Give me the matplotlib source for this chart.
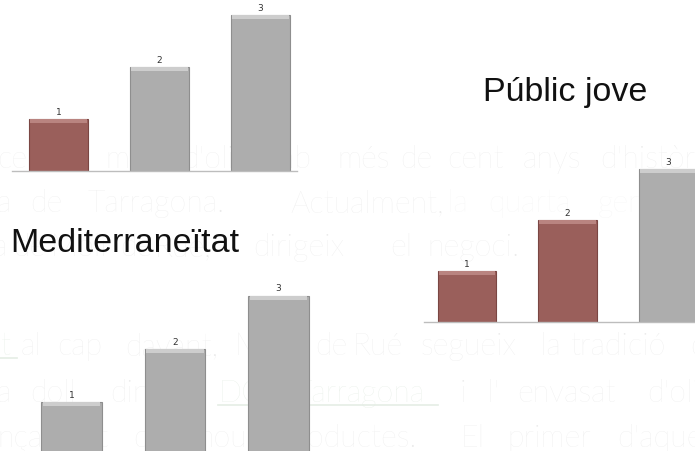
import matplotlib
matplotlib.use("Agg")
import matplotlib.pyplot as plt

W, H = 695, 451

# three small rankings drawn over a faded page of text
bar_values = [1, 2, 3]
chart_titles = ["", "Públic jove", "Mediterraneïtat"]
highlighted_bars = [1, 2, 0]  # bars filled in red, counted from the left

RED, RED_TOP, RED_EDGE = "#9a5f5b", "#b98480", "#7a4643"
GRAY, GRAY_TOP, GRAY_EDGE = "#adadad", "#cdcdcd", "#8e8e8e"

# faded page text: (baseline y, [(x, word), ...], colour, underline span)
TEXT = "#ebebeb"
LINK = "#e5ede5"
PALE = "#f4f4f4"
page_lines = [
    (168, [(-3, "celler"), (105, "molí"), (182, "d'oli"), (257, "amb"), (337, "més"),
           (400, "de"), (447, "cent"), (523, "anys"), (600, "d'història")], TEXT, None),
    (212, [(-3, "a"), (30, "de"), (88, "Tarragona."), (290, "Actualment,")], TEXT, None),
    (212, [(447, "la"), (488, "quarta"), (598, "generació")], PALE, None),
    (256, [(-8, "a"), (13, "de"), (50, "Molí"), (120, "de"), (155, "Rué,"),
           (253, "dirigeix"), (390, "el"), (427, "negoci.")], TEXT, None),
    (355, [(0, "t")], LINK, (0, 17)),
    (355, [(20, "al"), (57, "cap"), (125, "davant,"), (235, "Molí"), (315, "de"),
           (353, "Rué"), (420, "segueix"), (540, "la"), (570, "tradició"), (690, "d'")], TEXT, None),
    (402, [(-3, "a"), (30, "doll"), (110, "dins"), (187, "la")], TEXT, None),
    (402, [(218, "DO"), (295, "Tarragona")], LINK, (218, 438)),
    (402, [(460, "i"), (487, "l'"), (517, "envasat"), (647, "d'oli")], TEXT, None),
    (447, [(-3, "nçament"), (133, "de"), (197, "nous"), (280, "productes."), (460, "El"),
           (507, "primer"), (617, "d'aquests")], TEXT, None),
]

# chart frames in pixels: left edge, baseline, width, px per unit, bar spacing, first bar centre
frames = [
    (12, 171, 285, 52, 101, 58.5),
    (424, 322, 296, 51, 100.5, 467),
    (30, 456, 285, 53.5, 103.5, 71.5),
]
title_pos = [None, (483, 101), (10, 252)]


def px_axes(fig, left, top, width, height, z):
    return fig.add_axes([left / W, 1 - (top + height) / H, width / W, height / H], zorder=z)


def draw_page(fig):
    ax = px_axes(fig, 0, 0, W, H, 0)
    ax.set_xlim(0, W)
    ax.set_ylim(H, 0)
    ax.axis("off")
    for y, words, color, underline in page_lines:
        for x, word in words:
            ax.text(x, y, word, fontsize=22, family="Lato", weight="light",
                    color=color, ha="left", va="baseline")
        if underline:
            ax.plot(underline, [y + 3, y + 3], color=color, lw=1.2)
    return ax


def draw_chart(fig, frame, n_red):
    left, base, width, unit, step, first = frame
    ymax = 3.3
    ax = px_axes(fig, left, base - ymax * unit, width, ymax * unit, 2)
    ax.patch.set_alpha(0)
    x = list(range(len(bar_values)))
    body = [RED if i < n_red else GRAY for i in x]
    top = [RED_TOP if i < n_red else GRAY_TOP for i in x]
    edge = [RED_EDGE if i < n_red else GRAY_EDGE for i in x]
    ax.bar(x, bar_values, width=0.58, color=body, edgecolor=edge, linewidth=0.8)
    band = 4 / unit
    ax.bar(x, [band] * len(x), bottom=[v - band for v in bar_values], width=0.56,
           color=top, linewidth=0)
    for i, v in zip(x, bar_values):
        ax.annotate(str(v), (i, v), xytext=(0, 1.5), textcoords="offset points",
                    ha="center", va="bottom", fontsize=6.5, color="#333333",
                    family="DejaVu Sans")
    x0 = -(first - left) / step
    ax.set_xlim(x0, x0 + width / step)
    ax.set_ylim(0, ymax)
    for side in ("top", "left", "right"):
        ax.spines[side].set_visible(False)
    ax.spines["bottom"].set_color("#bdbdbd")
    ax.spines["bottom"].set_linewidth(1.0)
    ax.set_xticks([])
    ax.set_yticks([])
    return ax


fig = plt.figure(figsize=(W / 100, H / 100), dpi=100)
fig.patch.set_facecolor("white")
bg = draw_page(fig)
for frame, n_red in zip(frames, highlighted_bars):
    draw_chart(fig, frame, n_red)

# chart titles sit above everything
top_ax = px_axes(fig, 0, 0, W, H, 3)
top_ax.set_xlim(0, W)
top_ax.set_ylim(H, 0)
top_ax.axis("off")
for title, pos in zip(chart_titles, title_pos):
    if title:
        top_ax.text(pos[0], pos[1], title, fontsize=24.5, family="Liberation Sans",
                    color="#111111", ha="left", va="baseline")

fig.savefig("out.png", dpi=100)
plt.close(fig)
